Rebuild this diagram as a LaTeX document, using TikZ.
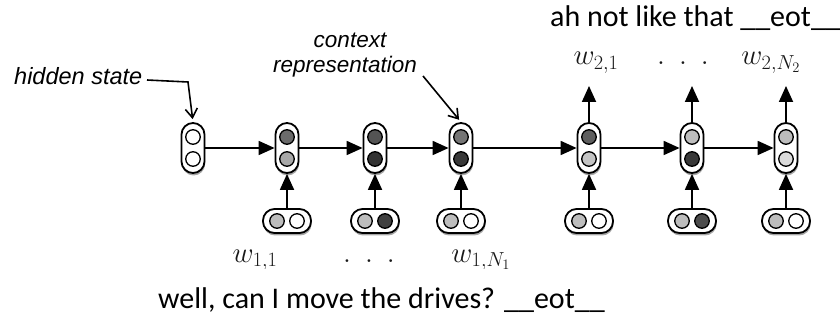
\RequirePackage{fix-cm}
\documentclass[tikz,border=0pt]{standalone}
\usepackage[no-math]{fontspec}
\setmainfont{Carlito}
\newfontfamily\annotfont{Liberation Sans}
\usetikzlibrary{arrows.meta,shadows,calc}
\tikzset{
  hunitbox/.style={draw=black, line width=1.8pt, fill=white, rectangle, rounded corners=11.5pt,
    minimum width=23pt, minimum height=50pt, inner sep=0pt,
    drop shadow={shadow xshift=0.6pt, shadow yshift=-2.5pt, opacity=0.35, fill=black}},
  iunitbox/.style={draw=black, line width=1.8pt, fill=white, rectangle, rounded corners=11.5pt,
    minimum width=48pt, minimum height=24pt, inner sep=0pt,
    drop shadow={shadow xshift=0.6pt, shadow yshift=-2.5pt, opacity=0.35, fill=black}},
  cell/.style={circle, draw=black, line width=1.3pt, minimum size=14.5pt, inner sep=0pt},
  conn/.style={line width=1.8pt, -{Triangle[length=16pt,width=14pt]}},
  annarrow/.style={line width=1.6pt, -{Straight Barb[length=9pt,width=12pt,line width=1.6pt]}, shorten >=3pt},
  annot/.style={font=\annotfont\itshape\fontsize{22.5}{26}\selectfont, inner sep=0pt},
  sentence/.style={font=\fontsize{30}{35}\selectfont, inner sep=0pt},
  wlabel/.style={font=\fontsize{29}{33}\selectfont, text=black!90, inner sep=0pt, anchor=base},
}
\newcommand{\hiddenunit}[4]{%
  \node[hunitbox] (#1) at (#2,148) {};
  \node[cell, fill=#3] (#1t) at (#2,137) {};
  \node[cell, fill=#4] (#1b) at (#2,159) {};
}
\newcommand{\inputunit}[4]{%
  \node[iunitbox] (#1) at (#2,221) {};
  \node[cell, fill=#3] (#1l) at ($(#2,221)+(-10,0)$) {};
  \node[cell, fill=#4] (#1r) at ($(#2,221)+(10,0)$) {};
}
\begin{document}
\begin{tikzpicture}[x=1pt,y=-1pt]
\useasboundingbox[fill=white] (0,0) rectangle (840,320);

% hidden units
\hiddenunit{h1}{193}{white}{white}
\hiddenunit{h2}{287}{black!58}{black!34}
\hiddenunit{h3}{375}{black!67}{black!80}
\hiddenunit{h4}{461}{black!54}{black!78}
\hiddenunit{h5}{589}{black!63}{black!23}
\hiddenunit{h6}{692}{black!26}{black!78}
\hiddenunit{h7}{786}{black!26}{black!14}

% input units
\inputunit{x2}{287}{black!26}{white}
\inputunit{x3}{375}{black!26}{black!75}
\inputunit{x4}{461}{black!26}{white}
\inputunit{x5}{589}{black!26}{white}
\inputunit{x6}{692}{black!26}{black!70}
\inputunit{x7}{786}{black!26}{white}

% recurrent connections
\draw[conn] (h1) -- (h2);
\draw[conn] (h2) -- (h3);
\draw[conn] (h3) -- (h4);
\draw[conn] (h4) -- (h5);
\draw[conn] (h5) -- (h6);
\draw[conn] (h6) -- (h7);

% input connections
\foreach \i in {2,...,7} {\draw[conn] (x\i) -- (h\i);}

% output connections
\coordinate (o5) at (589,86);
\coordinate (o6) at (692,86);
\coordinate (o7) at (786,86);
\draw[conn] (h5) -- (o5);
\draw[conn] (h6) -- (o6);
\draw[conn] (h7) -- (o7);

% annotations
\node[annot, anchor=base west] (hs) at (14,85) {\fontsize{23.5}{27}\selectfont hidden state};
\coordinate (hsstart) at (147,80);
\coordinate (hsbend) at (188,82);
\draw[annarrow] (hsstart) -- (hsbend) -- (h1.north);

\node[annot, anchor=base] (ctx1) at (350,48) {context};
\node[annot, anchor=base] (ctx2) at (345,73) {representation};
\coordinate (ctxstart) at (423,76);
\draw[annarrow] (ctxstart) -- (h4.north);

% output labels
\node[wlabel] (w21) at (596,65) {$w_{2,1}$};
\node[wlabel] (wdots2) at (683,65) {$.\hspace{14pt}.\hspace{14pt}.$};
\node[wlabel] (w2n) at (771,65) {$w_{2,N_2}$};

% input labels (clipped at the bottom, as in the reference)
\begin{scope}
\clip (0,0) rectangle (840,268);
\node[wlabel] (w11) at (255,262) {$w_{1,1}$};
\node[wlabel] (wdots1) at (369,262) {$.\hspace{14pt}.\hspace{14pt}.$};
\node[wlabel] (w1n) at (481,262) {$w_{1,N_1}$};
\end{scope}

% sentences
\node[sentence, anchor=base west] (s2) at (550,27) {ah not like that \_\_eot\_\_};
\node[sentence, anchor=base west] (s1) at (158,308) {well, can I move the drives? \_\_eot\_\_};
\end{tikzpicture}
\end{document}
